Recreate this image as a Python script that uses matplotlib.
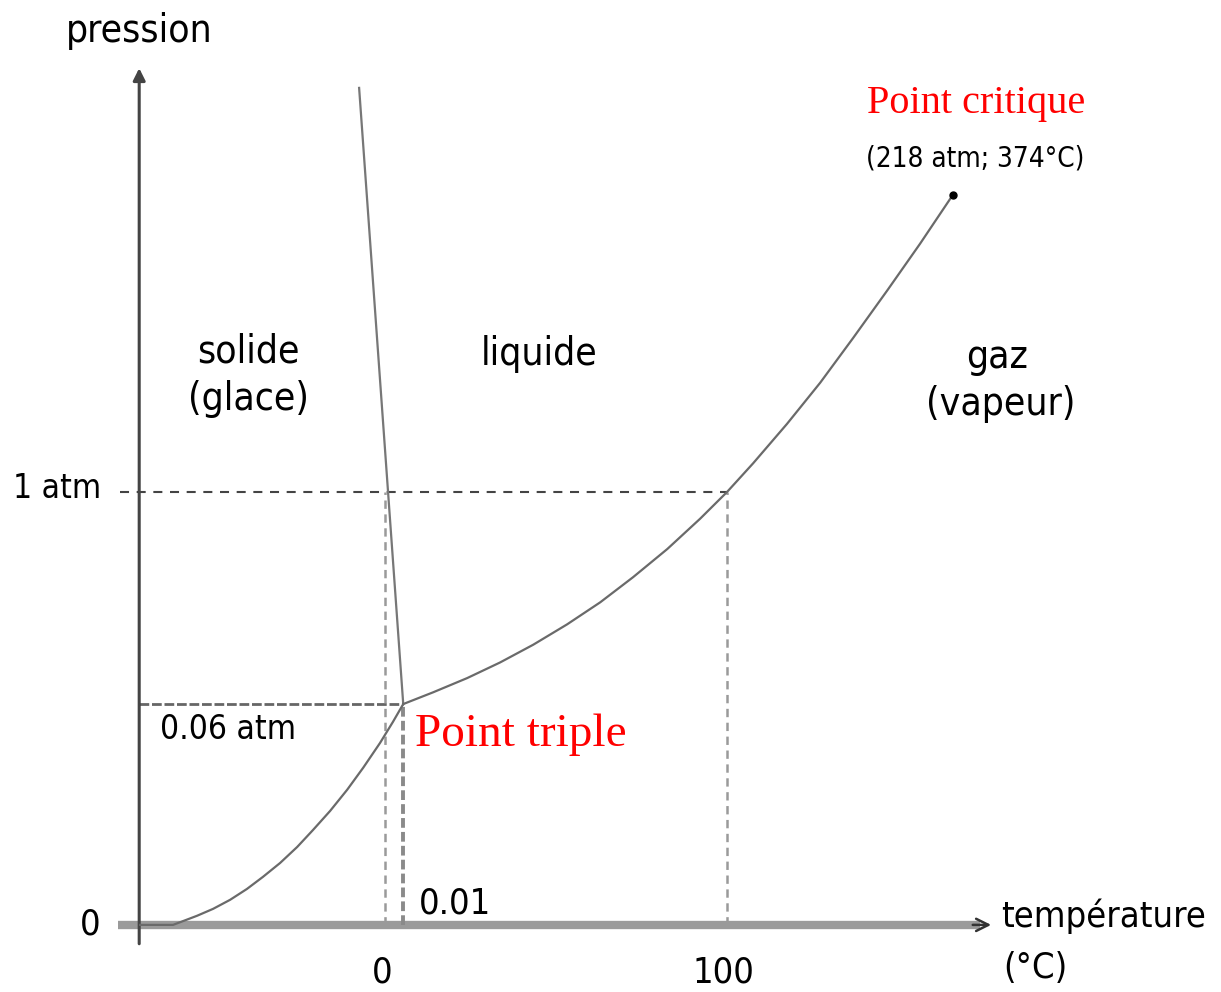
import matplotlib.pyplot as plt
import numpy as np

plt.rcParams['lines.scale_dashes'] = False

# schematic units: x = temperature (deg C, not to scale), y = pressure (1 atm = 1, not to scale)
temp_ticks = [0, 100]
temp_labels = ['0', '100']
p_ticks = [0.51, 1.0]
p_labels = ['0.06 atm', '1 atm']

triple_T, triple_P = 5.3, 0.51
crit_T, crit_P = 166, 1.686

# solid / liquid line
fusion_T = [-7.6, 5.3]
fusion_P = [1.933, 0.51]

# solid / gas line
sublim_T = [-71.6, -62.0, -55.0, -50.3, -45.3, -40.4, -35.7, -30.7, -25.7,
            -21.1, -16.1, -11.1, -6.4, -1.5, 2.3, 5.3]
sublim_P = [0.0, 0.0, 0.021, 0.037, 0.058, 0.083, 0.111, 0.143, 0.180,
            0.219, 0.263, 0.312, 0.363, 0.420, 0.469, 0.510]

# liquid / gas line
vap_T = [5.3, 14.0, 24.0, 33.6, 43.3, 53.2, 62.9, 72.5, 82.5, 92.1, 100,
         107.6, 117.5, 127.2, 136.8, 146.8, 156.4, 166]
vap_P = [0.510, 0.537, 0.570, 0.606, 0.647, 0.694, 0.745, 0.803, 0.868, 0.938, 1.0,
         1.066, 1.157, 1.252, 1.355, 1.465, 1.573, 1.686]

x_axis_start, x_axis_end = -78, 177
y_axis_T = -71.9

sans = ['DejaVu Sans']
serif = ['Liberation Serif', 'DejaVu Serif']
cond = dict(family=sans, fontstretch='condensed')

fig = plt.figure(figsize=(12.21, 9.92), dpi=100)
ax = fig.add_axes([0, 0, 1, 1])
ax.set_xlim(-112.6, 244.4)
ax.set_ylim(-0.155, 2.136)
ax.axis('off')

# axes of the diagram
ax.plot([x_axis_start, x_axis_end - 3], [0, 0], color='#9a9a9a', lw=6, solid_capstyle='butt', zorder=1)
ax.annotate('', xy=(x_axis_end + 1, 0), xytext=(x_axis_end - 6, 0),
            arrowprops=dict(arrowstyle='->', color='#333333', lw=1.8, mutation_scale=22))
ax.annotate('', xy=(y_axis_T, 1.985), xytext=(y_axis_T, -0.05),
            arrowprops=dict(arrowstyle='-|>', color='#444444', lw=2.2, mutation_scale=18))

# guide lines
ax.plot([-77.5, 100], [1, 1], color='#444444', lw=1.5, dashes=(6.5, 5.5), zorder=2)
ax.plot([y_axis_T, triple_T], [triple_P, triple_P], color='#666666', lw=2.0, dashes=(7, 2), zorder=2)
ax.plot([temp_ticks[0]] * 2, [0, 1], color='#9a9a9a', lw=1.8, dashes=(6, 4), zorder=2)
ax.plot([triple_T] * 2, [0, triple_P], color='#8a8a8a', lw=2.8, dashes=(7, 3), zorder=2)
ax.plot([temp_ticks[1]] * 2, [0, 1], color='#9a9a9a', lw=1.8, dashes=(6, 4), zorder=2)

# phase boundaries
ax.plot(fusion_T, fusion_P, color='#777777', lw=1.6, zorder=3)
ax.plot(sublim_T, sublim_P, color='#6a6a6a', lw=1.6, zorder=3)
ax.plot(vap_T, vap_P, color='#6a6a6a', lw=1.6, zorder=3)
ax.plot([crit_T], [crit_P], 'o', color='black', ms=5, zorder=4)

# labels
ax.text(y_axis_T, 2.065, 'pression', fontsize=28, ha='center', va='center', **cond)
ax.text(210, 0.02, 'température', fontsize=26, ha='center', va='center', **cond)
ax.text(190, -0.1, '(°C)', fontsize=26, ha='center', va='center', **cond)
ax.text(-86.3, 0, '0', fontsize=26, ha='center', va='center', **cond)
for t, lab in zip(temp_ticks, temp_labels):
    ax.text(t - 1, -0.11, lab, fontsize=26, ha='center', va='center', **cond)
ax.text(-96, p_ticks[1] + 0.007, p_labels[1], fontsize=24, ha='center', va='center', **cond)
ax.text(-46, p_ticks[0] - 0.058, p_labels[0], fontsize=24, ha='center', va='center', **cond)
ax.text(10, 0.05, '0.01', fontsize=26, ha='left', va='center', **cond)

ax.text(-40, 1.325, 'solide', fontsize=28, ha='center', va='center', **cond)
ax.text(-40, 1.215, '(glace)', fontsize=28, ha='center', va='center', **cond)
ax.text(45, 1.318, 'liquide', fontsize=28, ha='center', va='center', **cond)
ax.text(179, 1.312, 'gaz', fontsize=28, ha='center', va='center', **cond)
ax.text(180, 1.203, '(vapeur)', fontsize=28, ha='center', va='center', **cond)

ax.text(triple_T + 3.5, triple_P - 0.07, 'Point triple', fontsize=34, family=serif,
        color='red', ha='left', va='center')
ax.text(crit_T + 6.8, crit_P + 0.212, 'Point critique', fontsize=29, family=serif,
        color='red', ha='center', va='center')
ax.text(crit_T + 6.5, crit_P + 0.085, '(218 atm; 374°C)', fontsize=20, ha='center',
        va='center', **cond)

fig.savefig('out.png', dpi=100)
